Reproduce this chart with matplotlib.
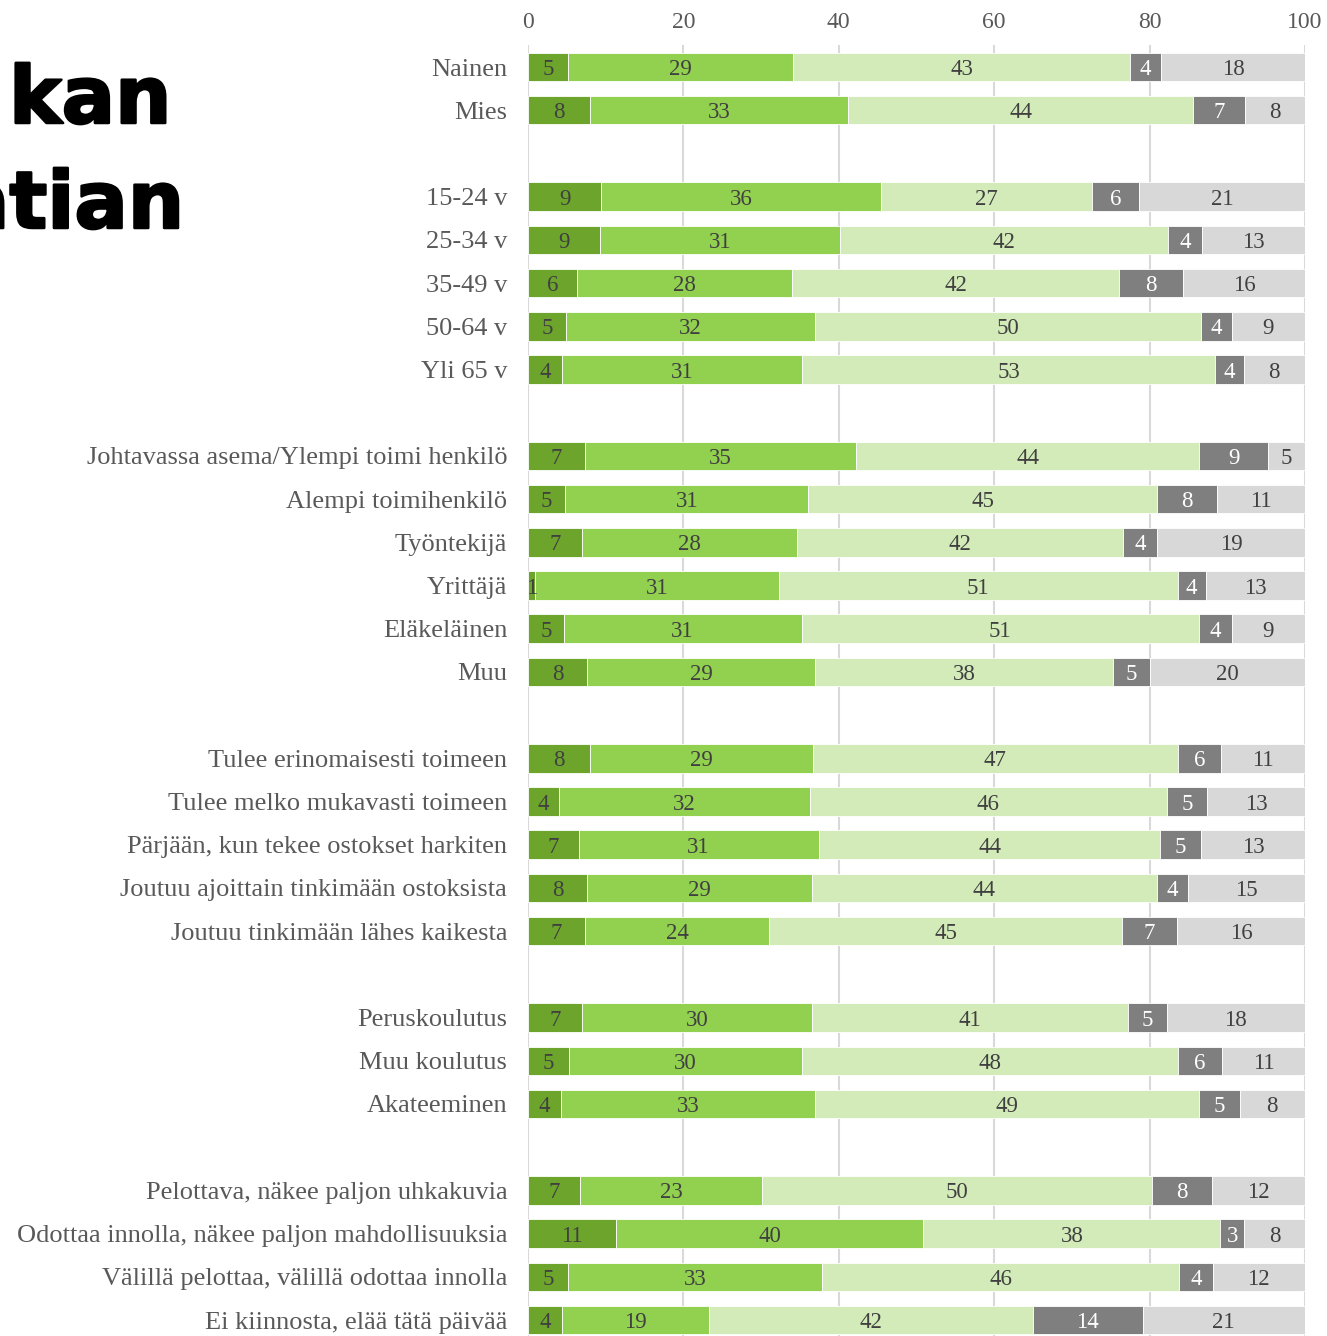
import matplotlib
matplotlib.use("Agg")
import matplotlib.pyplot as plt
import matplotlib.patheffects as pe
import numpy as np

categories = [
    "Nainen", "Mies", None,
    "15-24 v", "25-34 v", "35-49 v", "50-64 v", "Yli 65 v", None,
    "Johtavassa asema/Ylempi toimi henkilö", "Alempi toimihenkilö", "Työntekijä",
    "Yrittäjä", "Eläkeläinen", "Muu", None,
    "Tulee erinomaisesti toimeen", "Tulee melko mukavasti toimeen",
    "Pärjään, kun tekee ostokset harkiten", "Joutuu ajoittain tinkimään ostoksista",
    "Joutuu tinkimään lähes kaikesta", None,
    "Peruskoulutus", "Muu koulutus", "Akateeminen", None,
    "Pelottava, näkee paljon uhkakuvia", "Odottaa innolla, näkee paljon mahdollisuuksia",
    "Välillä pelottaa, välillä odottaa innolla", "Ei kiinnosta, elää tätä päivää",
]

# segment widths (percent) for the non-empty rows, in order
s1 = [5.2, 8.0, 9.4, 9.3, 6.3, 4.9, 4.4, 7.3, 4.8, 6.95, 0.9, 4.6, 7.6,
      8.0, 4.0, 6.5, 7.6, 7.35, 6.9, 5.3, 4.2, 6.75, 11.3, 5.2, 4.4]
s2 = [28.9, 33.2, 36.0, 30.9, 27.7, 32.0, 30.9, 34.9, 31.3, 27.7, 31.4, 30.6, 29.4,
      28.7, 32.3, 30.9, 29.0, 23.7, 29.7, 30.0, 32.8, 23.4, 39.6, 32.7, 18.9]
s3 = [43.4, 44.4, 27.2, 42.2, 42.1, 49.7, 53.1, 44.2, 44.8, 41.9, 51.3, 51.1, 38.3,
      46.9, 45.9, 44.0, 44.3, 45.4, 40.6, 48.3, 49.4, 50.2, 38.2, 45.9, 41.7]
s4 = [4.0, 6.7, 6.0, 4.3, 8.2, 4.0, 3.7, 8.9, 7.8, 4.4, 3.6, 4.3, 4.7,
      5.6, 5.2, 5.2, 4.1, 7.1, 5.0, 5.7, 5.2, 7.7, 3.1, 4.3, 14.1]
s5 = [18.5, 7.7, 21.4, 13.3, 15.7, 9.4, 7.9, 4.7, 11.3, 19.05, 12.8, 9.4, 20.0,
      10.8, 12.6, 13.4, 15.0, 16.45, 17.8, 10.7, 8.4, 11.95, 7.8, 11.9, 20.9]

# displayed labels
l1 = [5, 8, 9, 9, 6, 5, 4, 7, 5, 7, 1, 5, 8, 8, 4, 7, 8, 7, 7, 5, 4, 7, 11, 5, 4]
l2 = [29, 33, 36, 31, 28, 32, 31, 35, 31, 28, 31, 31, 29, 29, 32, 31, 29, 24, 30, 30, 33, 23, 40, 33, 19]
l3 = [43, 44, 27, 42, 42, 50, 53, 44, 45, 42, 51, 51, 38, 47, 46, 44, 44, 45, 41, 48, 49, 50, 38, 46, 42]
l4 = [4, 7, 6, 4, 8, 4, 4, 9, 8, 4, 4, 4, 5, 6, 5, 5, 4, 7, 5, 6, 5, 8, 3, 4, 14]
l5 = [18, 8, 21, 13, 16, 9, 8, 5, 11, 19, 13, 9, 20, 11, 13, 13, 15, 16, 18, 11, 8, 12, 8, 12, 21]

xticks = [0, 20, 40, 60, 80, 100]

colors = ["#6da52c", "#92d050", "#d2ebb8", "#7f7f7f", "#d8d8d8"]
text_colors = ["#404040", "#404040", "#404040", "white", "#404040"]

serif = ["Liberation Serif", "DejaVu Serif"]

W, H = 1327, 1336
fig = plt.figure(figsize=(W / 100, H / 100), dpi=100)
ax = fig.add_axes([528 / W, 0, (1305 - 528) / W, 1 - 45.4 / H])

rows = [i for i, c in enumerate(categories) if c is not None]
labels_rows = [categories[i] for i in rows]
ypos = np.array(rows, dtype=float)

series = [s1, s2, s3, s4, s5]
labs = [l1, l2, l3, l4, l5]
left = np.zeros(len(rows))
for k, (vals, lab) in enumerate(zip(series, labs)):
    vals = np.array(vals)
    ax.barh(ypos, vals, left=left, height=0.66, color=colors[k],
            edgecolor="white", linewidth=0.6, zorder=3)
    for y, l, v, t in zip(ypos, left, vals, lab):
        ax.text(l + v / 2, y + 0.06, str(t), ha="center", va="center",
                fontsize=16.5, color=text_colors[k], family=serif, zorder=4)
    left = left + vals

ax.set_xlim(0, 100)
ax.set_ylim(29.37, -0.5)
ax.set_xticks(xticks)
ax.set_xticklabels([str(t) for t in xticks], family=serif, fontsize=17, color="#595959")
ax.xaxis.tick_top()
ax.tick_params(axis="x", length=0, pad=9)
ax.set_yticks(ypos)
ax.set_yticklabels(labels_rows, family=serif, fontsize=19, color="#595959")
ax.tick_params(axis="y", length=0, pad=15)
for s in ax.spines.values():
    s.set_visible(False)
ax.grid(axis="x", color="#d9d9d9", linewidth=1.5, zorder=0)
ax.set_axisbelow(True)

heavy = [pe.withStroke(linewidth=1.8, foreground="black")]
fig.text(9 / W, 1 - 123 / H, "kan", fontsize=57, fontweight="bold",
         family="DejaVu Sans", color="black", ha="left", va="baseline",
         path_effects=heavy)
fig.text(184 / W, 1 - 228 / H, "atian", fontsize=57, fontweight="bold",
         family="DejaVu Sans", color="black", ha="right", va="baseline",
         path_effects=heavy)

fig.savefig("out.png", dpi=100)
